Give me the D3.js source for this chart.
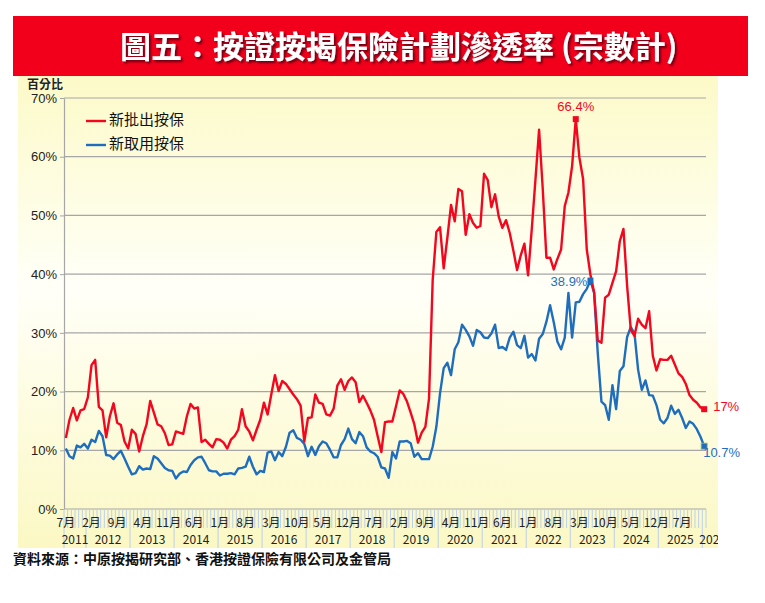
<!DOCTYPE html>
<html>
<head>
<meta charset="utf-8">
<script src="https://cdn.jsdelivr.net/npm/d3@7"></script>
<style>
  body { margin: 0; background: #fff; }
  svg { display: block; font-family: "Noto Sans CJK TC", "Noto Sans", sans-serif; }
</style>
</head>
<body>
<div class="chart"></div>
<script>
// Monthly data, Jul 2011 .. Jan 2026
const startYear = 2011;
const startMonth = 7;

// 新批出按保 (%)
const newApproved = [
  12.1, 15.2, 17.2, 15.1, 16.8, 17.0, 19.0, 24.5, 25.4, 17.4, 16.8, 12.2,
  15.8, 18.0, 14.7, 14.3, 11.5, 10.3, 13.5, 12.8, 9.8, 12.4, 14.4, 18.4,
  16.4, 14.4, 14.1, 12.9, 10.9, 11.0, 13.2, 13.0, 12.8, 15.8, 17.9, 17.1,
  17.3, 11.4, 11.8, 11.1, 10.5, 11.9, 11.8, 11.3, 10.3, 11.8, 12.4, 13.5,
  17.0, 14.1, 13.2, 11.7, 13.5, 15.2, 18.1, 16.1, 19.5, 22.8, 20.1, 21.8,
  21.3, 20.4, 19.5, 18.7, 17.6, 11.5, 15.5, 15.6, 19.5, 18.1, 17.9, 16.1,
  15.9, 17.1, 21.0, 22.1, 20.3, 21.8, 22.4, 21.6, 18.2, 19.3, 18.1, 16.8,
  15.2, 12.4, 9.7, 14.8, 14.9, 14.9, 17.5, 20.2, 19.6, 18.3, 16.4, 14.4,
  11.3, 13.0, 14.0, 18.8, 39.0, 47.2, 48.0, 41.0, 46.2, 51.8, 49.0, 54.5,
  54.1, 46.7, 50.2, 48.7, 47.9, 48.2, 57.1, 56.0, 51.4, 53.6, 49.8, 47.9,
  49.2, 47.0, 44.0, 40.7, 43.2, 45.2, 39.8, 47.6, 56.0, 64.6, 54.5, 42.8,
  42.8, 40.8, 42.6, 44.2, 51.6, 53.9, 58.4, 66.4, 59.8, 56.2, 44.2, 39.9,
  36.9, 28.7, 28.3, 36.0, 36.5, 38.5, 40.5, 45.6, 47.7, 38.0, 30.5, 29.5,
  32.4, 31.4, 30.8, 33.7, 26.1, 23.6, 25.5, 25.4, 25.4, 26.1, 24.6, 23.1,
  22.5, 21.3, 19.4, 18.6, 18.1, 17.3, 17.0
];

// 新取用按保 (%)
const newDrawn = [
  10.3, 9.0, 8.6, 10.8, 10.5, 11.1, 10.3, 11.8, 11.4, 13.3, 12.4, 9.2,
  9.1, 8.5, 9.3, 9.9, 8.6, 7.2, 5.9, 6.1, 7.3, 6.7, 6.9, 6.8,
  9.0, 8.6, 7.8, 7.0, 6.6, 6.5, 5.2, 6.0, 6.4, 6.3, 7.5, 8.3,
  8.8, 8.9, 7.8, 6.6, 6.4, 6.4, 5.7, 6.0, 6.0, 6.1, 5.9, 6.9,
  7.0, 7.2, 8.9, 7.2, 5.9, 6.5, 6.3, 9.6, 9.8, 8.3, 9.7, 9.0,
  10.6, 13.0, 13.4, 12.1, 11.8, 11.1, 9.0, 10.6, 9.2, 10.7, 11.5, 11.2,
  10.1, 8.8, 8.8, 10.9, 11.9, 13.7, 11.9, 11.2, 13.1, 12.4, 10.5, 9.8,
  9.5, 8.9, 7.1, 6.9, 5.3, 9.7, 8.6, 11.5, 11.5, 11.6, 11.2, 8.9,
  9.5, 8.5, 8.5, 8.5, 10.6, 14.0, 19.7, 24.0, 24.9, 22.8, 27.2, 28.4,
  31.4, 30.5, 29.4, 27.8, 30.5, 30.1, 29.2, 29.1, 29.9, 31.4, 27.4, 27.6,
  27.1, 29.2, 30.2, 27.9, 27.4, 29.5, 25.8, 26.4, 25.3, 29.0, 29.8, 31.9,
  34.7, 31.8, 28.5, 27.2, 29.2, 36.8, 29.2, 35.2, 35.3, 36.6, 37.5, 38.9,
  36.8, 26.5, 18.3, 17.7, 15.2, 21.1, 17.0, 23.5, 24.3, 29.3, 31.0, 29.9,
  23.7, 20.3, 21.9, 19.4, 19.3, 17.7, 15.2, 14.6, 15.5, 17.6, 16.2, 16.9,
  15.5, 13.8, 14.9, 14.5, 13.6, 12.3, 10.7
];

// Axis labels
const yTicks = [0, 10, 20, 30, 40, 50, 60, 70];
const monthLabels = ["7月", "2月", "9月", "4月", "11月", "6月", "1月", "8月", "3月", "10月",
  "5月", "12月", "7月", "2月", "9月", "4月", "11月", "6月", "1月", "8月", "3月", "10月",
  "5月", "12月", "7月"];
const monthLabelStep = 7;
const yearLabels = ["2011", "2012", "2013", "2014", "2015", "2016", "2017", "2018",
  "2019", "2020", "2021", "2022", "2023", "2024", "2025", "2026"];

// Highlighted points
const callouts = [
  {series: "red", index: 139, label: "66.4%"},
  {series: "blue", index: 143, label: "38.9%"},
  {series: "red", index: 174, label: "17%"},
  {series: "blue", index: 174, label: "10.7%"}
];

const width = 765;
const height = 603;
const plot = {left: 64, right: 706, top: 98, bottom: 509};
const red = "#F4061F";
const blue = "#1F6EBE";

const svg = d3.select(".chart")
  .append("svg")
    .attr("width", width)
    .attr("height", height);

const defs = svg.append("defs");
const grad = defs.append("linearGradient")
    .attr("id", "bg")
    .attr("x1", 0).attr("y1", 0).attr("x2", 0).attr("y2", 1);
grad.append("stop").attr("offset", "0%").attr("stop-color", "#FCFAC8");
grad.append("stop").attr("offset", "45%").attr("stop-color", "#FFFFF8");
grad.append("stop").attr("offset", "100%").attr("stop-color", "#FBF8C4");

const shadow = defs.append("filter").attr("id", "shadow")
    .attr("x", "-5%").attr("y", "-20%").attr("width", "110%").attr("height", "150%");
shadow.append("feDropShadow")
    .attr("dx", 2).attr("dy", 2).attr("stdDeviation", 1)
    .attr("flood-color", "#4a0008").attr("flood-opacity", 0.8);

defs.append("clipPath").attr("id", "panelClip")
  .append("rect").attr("x", 18).attr("y", 76).attr("width", 700).attr("height", 472);

// Title banner
svg.append("rect")
    .attr("x", 13).attr("y", 16).attr("width", 735).attr("height", 60)
    .attr("fill", "#F2001B");
svg.append("text")
    .attr("x", 120).attr("y", 58)
    .attr("fill", "#fff")
    .attr("font-size", 31)
    .attr("font-weight", "bold")
    .attr("filter", "url(#shadow)")
    .text("圖五：按證按揭保險計劃滲透率 (宗數計)");

// Chart panel
svg.append("rect")
    .attr("x", 18).attr("y", 76).attr("width", 700).attr("height", 472)
    .attr("fill", "url(#bg)");

const n = newApproved.length;
const x = d3.scaleBand()
    .domain(d3.range(n))
    .range([plot.left, plot.right]);
const y = d3.scaleLinear()
    .domain([0, 70])
    .range([plot.bottom, plot.top]);
const cx = i => x(i) + x.bandwidth() / 2;

// Gridlines
svg.append("g")
  .selectAll("line")
  .data(yTicks)
  .join("line")
    .attr("x1", plot.left).attr("x2", plot.right)
    .attr("y1", d => y(d)).attr("y2", d => y(d))
    .attr("stroke", "#A6A6A6")
    .attr("stroke-width", 1.2);

// Y axis
const yAxis = svg.append("g")
    .attr("transform", `translate(${plot.left},0)`)
    .call(d3.axisLeft(y).tickValues(yTicks).tickFormat(d => d + "%").tickSize(4).tickSizeOuter(0));
yAxis.select(".domain").attr("stroke", "#A6A6A6").attr("stroke-width", 1.2);
yAxis.selectAll(".tick line").attr("stroke", "#A6A6A6");
yAxis.selectAll(".tick text")
    .attr("font-size", 13)
    .attr("fill", "#222")
    .attr("font-family", "'Liberation Sans', 'Noto Sans CJK TC', sans-serif")
    .attr("x", -7);

svg.append("text")
    .attr("x", 27).attr("y", 89)
    .attr("font-size", 12)
    .attr("font-weight", "bold")
    .attr("fill", "#222")
    .text("百分比");

// X axis: category ticks
const xAxis = svg.append("g").attr("clip-path", "url(#panelClip)");
xAxis.selectAll("line.tick")
  .data(d3.range(n + 1))
  .join("line")
    .attr("class", "tick")
    .attr("x1", i => i < n ? x(i) : plot.right)
    .attr("x2", i => i < n ? x(i) : plot.right)
    .attr("y1", plot.bottom)
    .attr("y2", plot.bottom + 19)
    .attr("stroke", "#BCD0EA")
    .attr("stroke-width", 1);

xAxis.selectAll("text.month")
  .data(monthLabels)
  .join("text")
    .attr("class", "month")
    .attr("x", (d, k) => cx(k * monthLabelStep))
    .attr("y", plot.bottom + 18)
    .attr("text-anchor", "middle")
    .attr("font-size", 12)
    .attr("fill", "#222")
    .text(d => d);

// Year groups
const yearInfo = yearLabels.map((yr, k) => {
  const first = Math.max(0, k * 12 - (startMonth - 1));
  const last = Math.min(n - 1, (k + 1) * 12 - (startMonth - 1) - 1);
  return {yr, first, last};
});

xAxis.selectAll("line.year")
  .data(yearInfo)
  .join("line")
    .attr("class", "year")
    .attr("x1", d => x(d.first)).attr("x2", d => x(d.first))
    .attr("y1", plot.bottom + 19).attr("y2", plot.bottom + 39)
    .attr("stroke", "#BCD0EA");

xAxis.selectAll("text.year")
  .data(yearInfo)
  .join("text")
    .attr("class", "year")
    .attr("x", d => d.first === d.last ? x(d.first) - 3 : (x(d.first) + x(d.last) + x.bandwidth()) / 2)
    .attr("y", plot.bottom + 35)
    .attr("text-anchor", d => d.first === d.last ? "start" : "middle")
    .attr("font-size", 12)
    .attr("fill", "#222")
    .text(d => d.yr);

// Lines
const line = d3.line()
    .x((d, i) => cx(i))
    .y(d => y(d));

svg.append("path")
    .datum(newDrawn)
    .attr("fill", "none")
    .attr("stroke", blue)
    .attr("stroke-width", 2.4)
    .attr("stroke-linejoin", "round")
    .attr("d", line);

svg.append("path")
    .datum(newApproved)
    .attr("fill", "none")
    .attr("stroke", red)
    .attr("stroke-width", 2.4)
    .attr("stroke-linejoin", "round")
    .attr("d", line);

// Callout markers and labels
const seriesOf = {red: newApproved, blue: newDrawn};
const colourOf = {red: red, blue: blue};
const labelPos = [
  {dx: 0, dy: -12, anchor: "middle"},
  {dx: -3, dy: 2, anchor: "end"},
  {dx: 9, dy: -2, anchor: "start"},
  {dx: -1, dy: 1, anchor: "start"}
];

svg.append("g")
  .selectAll("rect")
  .data(callouts)
  .join("rect")
    .attr("x", d => cx(d.index) - 3)
    .attr("y", d => y(seriesOf[d.series][d.index]) - 3)
    .attr("width", 6).attr("height", 6)
    .attr("fill", d => colourOf[d.series])
    .attr("stroke", (d, k) => k === 3 ? "#9BBB59" : "none")
    .attr("stroke-width", 0.8);

svg.append("g")
  .selectAll("text")
  .data(callouts)
  .join("text")
    .attr("x", (d, k) => cx(d.index) + labelPos[k].dx)
    .attr("y", (d, k) => y(seriesOf[d.series][d.index]) + labelPos[k].dy)
    .attr("dominant-baseline", (d, k) => k === 3 ? "hanging" : "middle")
    .attr("text-anchor", (d, k) => labelPos[k].anchor)
    .attr("font-size", 13)
    .attr("font-family", "'Liberation Sans', 'Noto Sans', sans-serif")
    .attr("fill", d => colourOf[d.series])
    .text(d => d.label);

// Legend
const legend = [
  {name: "新批出按保", colour: red},
  {name: "新取用按保", colour: blue}
];
const lg = svg.append("g")
  .selectAll("g")
  .data(legend)
  .join("g")
    .attr("transform", (d, k) => `translate(86, ${121 + k * 24})`);
lg.append("line")
    .attr("x1", 0).attr("x2", 20)
    .attr("stroke", d => d.colour)
    .attr("stroke-width", 2.4);
lg.append("text")
    .attr("x", 23)
    .attr("dominant-baseline", "middle")
    .attr("font-size", 15)
    .attr("fill", "#111")
    .text(d => d.name);

// Source
svg.append("text")
    .attr("x", 13).attr("y", 564)
    .attr("font-size", 14)
    .attr("font-weight", "bold")
    .attr("fill", "#111")
    .text("資料來源：中原按揭研究部、香港按證保險有限公司及金管局");
</script>
</body>
</html>
